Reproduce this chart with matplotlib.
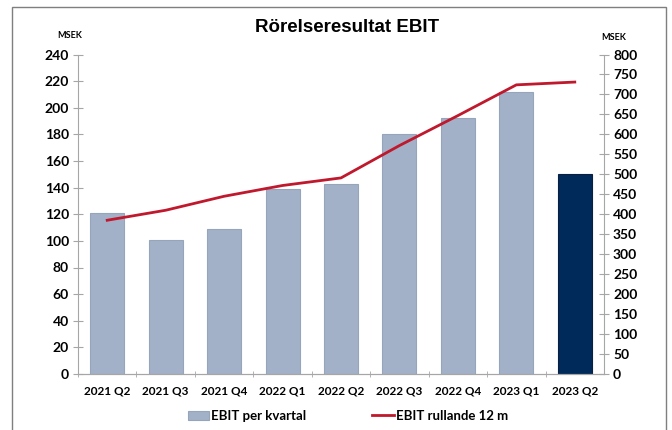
import matplotlib.pyplot as plt
from matplotlib.patches import Rectangle, Patch
from matplotlib.lines import Line2D

quarters = ['2021 Q2', '2021 Q3', '2021 Q4', '2022 Q1', '2022 Q2',
            '2022 Q3', '2022 Q4', '2023 Q1', '2023 Q2']
ebit_kvartal = [121, 101, 109, 139, 143, 180, 192, 212, 150]
ebit_rullande = [385, 410, 445, 472, 491, 572, 647, 724, 731]

light = '#A2B1C8'
dark = '#002A5A'
red = '#C0182C'
grey = '#A6A6A6'

plt.rcParams['font.family'] = ['Lato', 'DejaVu Sans']

fig = plt.figure(figsize=(6.72, 4.30), dpi=100)
# grey frame round the chart (bottom edge falls outside the picture)
fig.patches.append(Rectangle((12 / 672, -0.1), 654 / 672, 1.1 - 7 / 430,
                             transform=fig.transFigure, fill=False,
                             edgecolor='#7F7F7F', linewidth=1.0))

ax = fig.add_axes([78 / 672, 1 - 374 / 430, 526 / 672, 319.5 / 430])
ax2 = ax.twinx()

x = range(len(quarters))
colors = [light] * (len(quarters) - 1) + [dark]
edges = ['#97A5BA'] * (len(quarters) - 1) + ['#0A2040']
ax.bar(x, ebit_kvartal, width=0.58, color=colors, edgecolor=edges, linewidth=0.8, zorder=2)
ax2.plot(x, ebit_rullande, color=red, linewidth=2, zorder=3)

ax.set_xlim(-0.5, len(quarters) - 0.5)
ax.set_ylim(0, 240)
ax.set_yticks(range(0, 241, 20))
ax2.set_ylim(0, 800)
ax2.set_yticks(range(0, 801, 50))

ax2.set_zorder(ax.get_zorder() + 1)
ax2.patch.set_visible(False)

ax.set_xticks(list(x))
ax.set_xticklabels(quarters, fontsize=8.5, fontweight='bold')
ax.set_xticks([i + 0.5 for i in range(-1, len(quarters) - 1)], minor=True)
ax.tick_params(axis='x', which='major', length=0, pad=8)
ax.tick_params(axis='x', which='minor', length=5, direction='inout', color=grey)

for a in (ax, ax2):
    for s in a.spines.values():
        s.set_color(grey)
    a.spines['top'].set_visible(False)
ax.spines['right'].set_visible(False)
ax2.spines['left'].set_visible(False)

ax.tick_params(axis='y', length=7, direction='inout', color=grey, labelsize=10, pad=3)
ax2.tick_params(axis='y', length=7, direction='inout', color=grey, labelsize=10, pad=3)
for lab in ax.get_yticklabels() + ax2.get_yticklabels():
    lab.set_fontweight('bold')

fig.text(347 / 672, 1 - 27 / 430, 'Rörelseresultat EBIT', ha='center', va='center',
         fontsize=13.5, fontweight='bold', family=['Liberation Sans', 'DejaVu Sans'])
fig.text(70 / 672, 1 - 35 / 430, 'MSEK', ha='center', va='center', fontsize=6.5, fontweight='bold')
fig.text(614 / 672, 1 - 37 / 430, 'MSEK', ha='center', va='center', fontsize=6.5, fontweight='bold')

handles = [Patch(facecolor=light, edgecolor='#97A5BA', linewidth=0.8),
           Line2D([0], [0], color=red, linewidth=2)]
fig.legend(handles, ['EBIT per kvartal', 'EBIT rullande 12 m'], loc='center',
           bbox_to_anchor=(348 / 672, 1 - 416 / 430), ncol=2, frameon=False,
           prop={'weight': 'bold', 'size': 9.5}, columnspacing=5, handlelength=1.6,
           handletextpad=0.2)

fig.savefig('out.png', dpi=100)
